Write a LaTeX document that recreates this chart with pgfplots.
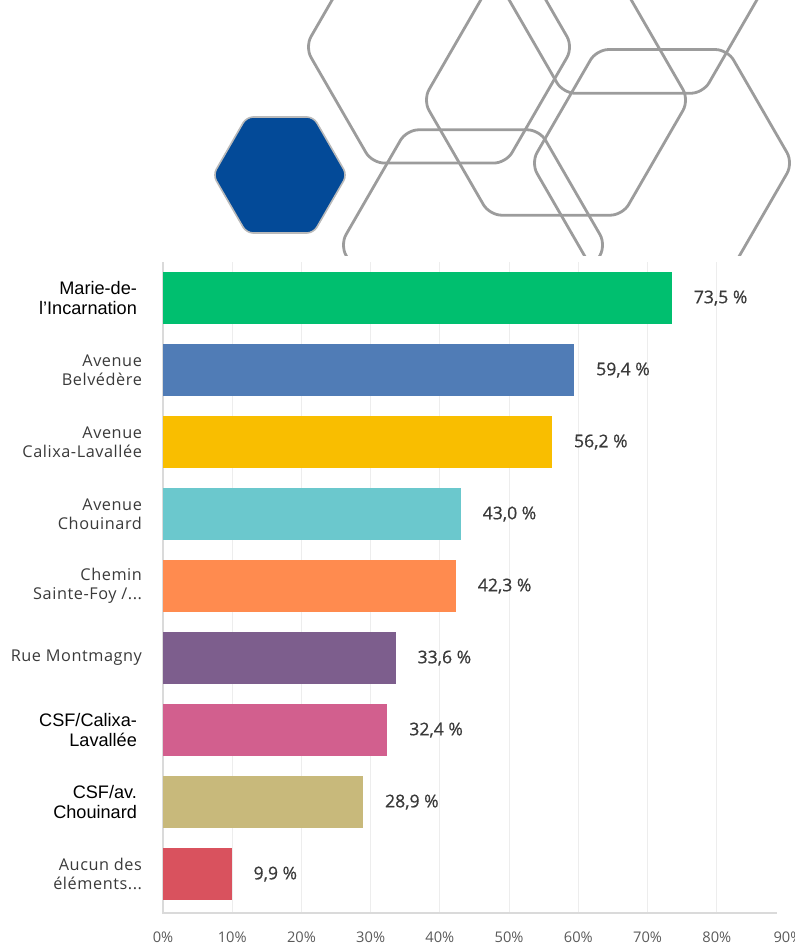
\documentclass[border=0pt]{standalone}
\usepackage{pgfplots}
\pgfplotsset{compat=1.18}
\usepackage{fontspec}
\setmainfont{Open Sans}
\newfontfamily\arialfont{Liberation Sans}
\newfontfamily\labfont[LetterSpace=3.5]{Open Sans}
\newfontfamily\valfont[FakeBold=0.6]{Open Sans}
\definecolor{cA}{HTML}{00BF6F}
\definecolor{cB}{HTML}{507CB6}
\definecolor{cC}{HTML}{F9BE00}
\definecolor{cD}{HTML}{6BC8CD}
\definecolor{cE}{HTML}{FF8B4F}
\definecolor{cF}{HTML}{7D5E8D}
\definecolor{cG}{HTML}{D25F8E}
\definecolor{cH}{HTML}{C8B97B}
\definecolor{cI}{HTML}{D9525E}
\definecolor{hexgray}{HTML}{9C9C9C}
\definecolor{hexblue}{HTML}{034A98}
\definecolor{labgray}{HTML}{3A3A3A}
\definecolor{tickgray}{HTML}{5A5A5A}
\definecolor{gridc}{HTML}{EDEDED}
\definecolor{axisc}{HTML}{DADADA}
\newcommand{\alab}{\arialfont\fontsize{13.6}{15.75}\selectfont\color{black}}
\newcommand{\alend}{\hspace*{3.75pt}}
\newcommand{\threedots}{.\kern0.03em.\kern0.03em.}
\begin{document}
\begin{tikzpicture}
\begin{scope}
\clip (0,0) rectangle (595.5pt,-708.75pt);
\begin{scope}[x=0.75pt,y=-0.75pt]
 \begin{scope}
 \clip (0,0) rectangle (794,255);
 \foreach \cx/\cy/\r in {439/47/134, 556/100/133, 633/-28/140, 662/163/131, 473/245/133} {
  \begin{scope}[shift={(\cx,\cy)}]
  \draw[hexgray, line width=2.1pt, rounded corners=9pt]
   ({0.75*\r},{0.433*\r}) -- (60:\r) -- (120:\r) -- (180:\r) -- (240:\r) -- (300:\r) -- (0:\r) -- ({0.75*\r},{0.433*\r});
  \end{scope}
 }
 \begin{scope}[shift={(280,175)}]
  \filldraw[fill=hexblue, draw=hexgray!70, line width=1.2pt, rounded corners=5pt]
   ({0.75*67},{0.433*67}) -- (60:67) -- (120:67) -- (180:67) -- (240:67) -- (300:67) -- (0:67) -- ({0.75*67},{0.433*67});
 \end{scope}
 \end{scope}
\end{scope}
\end{scope}
\begin{axis}[
 at={(122.25pt,-684.75pt)}, anchor=south west,
 width=460.5pt, height=488.25pt, scale only axis,
 xbar, bar width=39pt, bar shift=0pt,
 xmin=0, xmax=88.7, ymin=-0.54, ymax=8.5,
 xtick={0,10,20,30,40,50,60,70,80},
 xticklabels={0\%,10\%,20\%,30\%,40\%,50\%,60\%,70\%,80\%},
 ytick={0,1,2,3,4,5,6,7,8},
 yticklabels={
  {Aucun des\\éléments\threedots},
  {\alab CSF/av.\alend\\\alab Chouinard\alend},
  {\alab CSF/Calixa-\alend\\\alab Lavallée\alend},
  {Rue Montmagny},
  {Chemin\\Sainte-Foy /\threedots},
  {Avenue\\Chouinard},
  {Avenue\\Calixa-Lavallée},
  {Avenue\\Belvédère},
  {\alab Marie-de-\alend\\\alab l’Incarnation\alend}},
 yticklabel style={align=right, font=\labfont\fontsize{12.2}{14.5}\selectfont, color=labgray, xshift=-8pt},
 xticklabel style={font=\fontsize{11}{13}\selectfont, color=tickgray, yshift=-10.5pt},
 xmajorgrids, grid style={gridc, line width=0.8pt},
 axis line style={draw=none},
 tick style={draw=none},
 clip=false,
 nodes near coords style={anchor=west, xshift=13pt, font=\valfont\fontsize{13.2}{15}\selectfont, color=labgray},
]
\draw[axisc, line width=1pt] (rel axis cs:0,1) -- (rel axis cs:0,0) -- (rel axis cs:1,0);
\addplot[fill=cA, draw=none, nodes near coords={73,5 \%}] coordinates {(73.5,8)};
\addplot[fill=cB, draw=none, nodes near coords={59,4 \%}] coordinates {(59.4,7)};
\addplot[fill=cC, draw=none, nodes near coords={56,2 \%}] coordinates {(56.2,6)};
\addplot[fill=cD, draw=none, nodes near coords={43,0 \%}] coordinates {(43.0,5)};
\addplot[fill=cE, draw=none, nodes near coords={42,3 \%}] coordinates {(42.3,4)};
\addplot[fill=cF, draw=none, nodes near coords={33,6 \%}] coordinates {(33.6,3)};
\addplot[fill=cG, draw=none, nodes near coords={32,4 \%}] coordinates {(32.4,2)};
\addplot[fill=cH, draw=none, nodes near coords={28,9 \%}] coordinates {(28.9,1)};
\addplot[fill=cI, draw=none, nodes near coords={9,9 \%}] coordinates {(9.9,0)};
\end{axis}
\node[anchor=north, font=\fontsize{11}{13}\selectfont, color=tickgray, inner sep=0.333em] at (122.25pt+625*0.75pt, -684.75pt-10.5pt) {90\%};
\pgfresetboundingbox
\useasboundingbox (0,0) rectangle (595.5pt,-708.75pt);
\end{tikzpicture}
\end{document}
